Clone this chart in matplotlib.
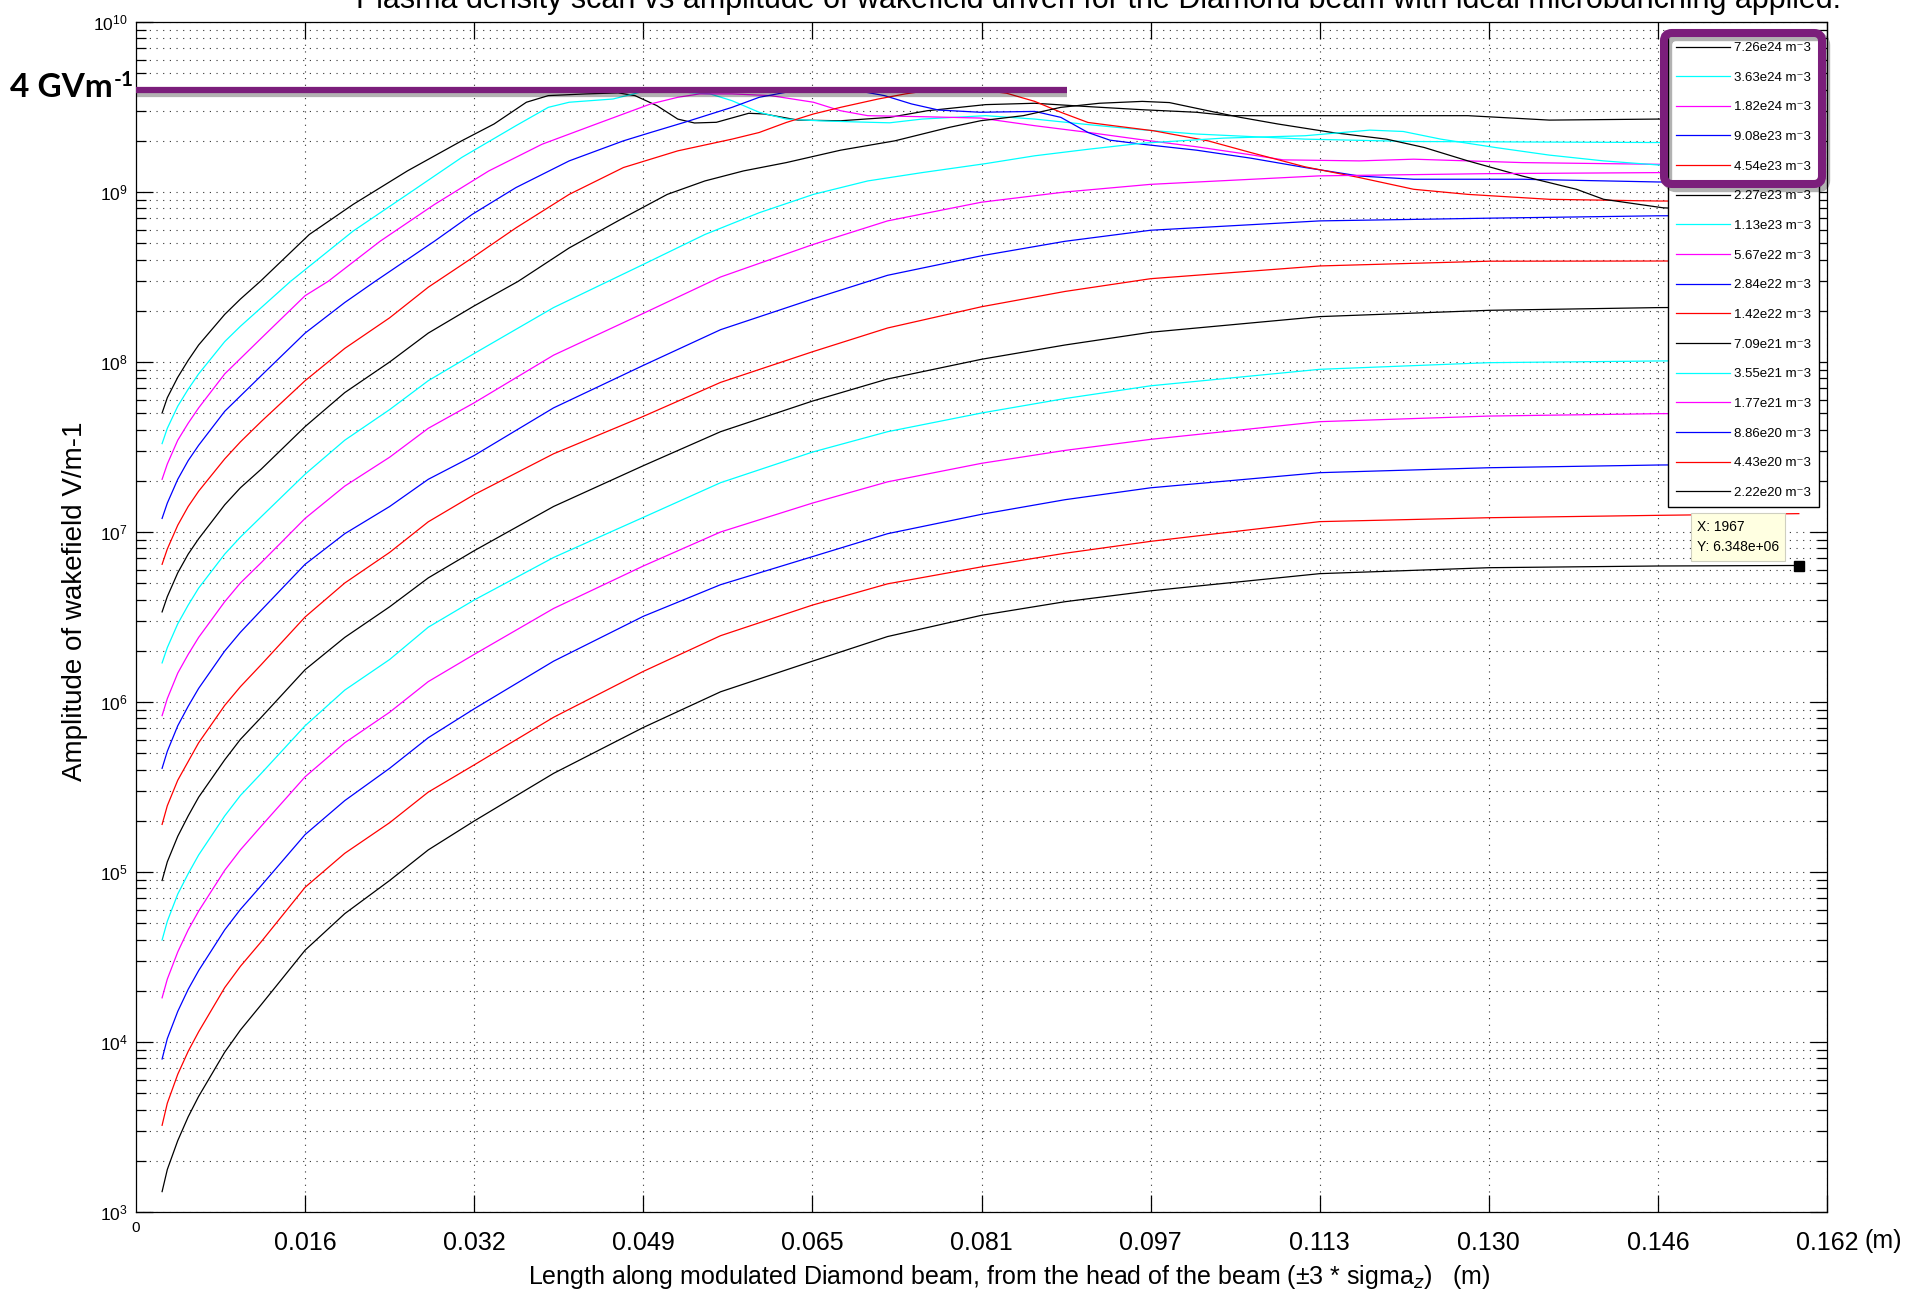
import matplotlib
matplotlib.use("Agg")
import matplotlib.pyplot as plt
import matplotlib.patheffects as pe
from matplotlib.patches import FancyBboxPatch
from matplotlib.ticker import NullFormatter, LogFormatterSciNotation
from matplotlib.transforms import IdentityTransform
import numpy as np


# NOTE : Legend text, one entry per plasma density (top to bottom)
densities=["7.26e24", "3.63e24", "1.82e24", "9.08e23", "4.54e23", "2.27e23", "1.13e23", "5.67e22",
           "2.84e22", "1.42e22", "7.09e21", "3.55e21", "1.77e21", "8.86e20", "4.43e20", "2.22e20"]

# NOTE : Position along the beam (m) and log10 of wakefield amplitude (V/m)
x_726e24=[0.0025, 0.003, 0.004, 0.005, 0.006, 0.0085, 0.01, 0.0119, 0.0166, 0.0208, 0.026, 0.0312,
          0.0343, 0.0374, 0.0395, 0.0431, 0.0462, 0.0478, 0.0499, 0.0519, 0.0535, 0.0556, 0.0587, 0.0602,
          0.0634, 0.0675, 0.0722, 0.0758, 0.0814, 0.0861, 0.0913, 0.0964, 0.1016, 0.1047, 0.1172, 0.1276,
          0.1354, 0.1458, 0.1593]
y_726e24=[7.70, 7.79, 7.91, 8.01, 8.10, 8.28, 8.37, 8.474, 8.75, 8.927, 9.124, 9.301,
          9.40, 9.528, 9.567, 9.577, 9.583, 9.567, 9.508, 9.429, 9.406, 9.41, 9.463, 9.459,
          9.423, 9.419, 9.439, 9.478, 9.514, 9.522, 9.502, 9.484, 9.469, 9.449, 9.449, 9.449,
          9.423, 9.429, 9.43]

x_363e24=[0.0025, 0.003, 0.004, 0.005, 0.006, 0.0085, 0.01, 0.012, 0.0148, 0.0208, 0.026, 0.0312,
          0.0364, 0.0395, 0.0415, 0.0457, 0.0483, 0.0519, 0.055, 0.0571, 0.0597, 0.0623, 0.0654, 0.0685,
          0.0722, 0.0753, 0.0814, 0.0861, 0.0913, 0.0964, 0.1016, 0.112, 0.1224, 0.1458, 0.1593]
y_363e24=[7.52, 7.61, 7.74, 7.84, 7.93, 8.12, 8.21, 8.32, 8.474, 8.77, 8.986, 9.203,
          9.39, 9.498, 9.528, 9.547, 9.587, 9.59, 9.577, 9.537, 9.469, 9.429, 9.419, 9.413,
          9.407, 9.429, 9.449, 9.429, 9.396, 9.366, 9.341, 9.311, 9.297, 9.291, 9.29]

x_182e24=[0.0025, 0.003, 0.004, 0.005, 0.006, 0.0085, 0.01, 0.012, 0.0162, 0.0184, 0.0234, 0.0286,
          0.0338, 0.0389, 0.0441, 0.0493, 0.0519, 0.054, 0.0571, 0.0608, 0.0649, 0.0675, 0.0701, 0.0753,
          0.0809, 0.0861, 0.0913, 0.0964, 0.1016, 0.1068, 0.1099, 0.1172, 0.1224, 0.1328, 0.1458, 0.1593]
y_182e24=[7.31, 7.40, 7.54, 7.64, 7.73, 7.93, 8.02, 8.14, 8.39, 8.474, 8.711, 8.927,
          9.124, 9.281, 9.40, 9.518, 9.557, 9.577, 9.577, 9.567, 9.528, 9.478, 9.449, 9.443,
          9.435, 9.39, 9.35, 9.307, 9.266, 9.219, 9.189, 9.183, 9.193, 9.173, 9.163, 9.16]

x_908e23=[0.0025, 0.003, 0.004, 0.005, 0.006, 0.0085, 0.01, 0.012, 0.0162, 0.02, 0.0229, 0.0286,
          0.0322, 0.0364, 0.0415, 0.0467, 0.0493, 0.0525, 0.0571, 0.0597, 0.0623, 0.0649, 0.0691, 0.0717,
          0.0743, 0.0769, 0.0809, 0.0861, 0.0886, 0.0912, 0.0933, 0.0964, 0.1016, 0.1068, 0.112, 0.1172,
          0.1224, 0.1328, 0.1458, 0.1593]
y_908e23=[7.08, 7.17, 7.31, 7.42, 7.51, 7.71, 7.80, 7.92, 8.17, 8.35, 8.474, 8.711,
          8.868, 9.026, 9.183, 9.301, 9.35, 9.409, 9.498, 9.557, 9.587, 9.596, 9.596, 9.567,
          9.518, 9.482, 9.469, 9.474, 9.439, 9.35, 9.305, 9.281, 9.246, 9.199, 9.144, 9.094,
          9.075, 9.075, 9.059, 9.055]

x_454e23=[0.0025, 0.003, 0.004, 0.005, 0.006, 0.0085, 0.01, 0.012, 0.0162, 0.02, 0.0243, 0.028,
          0.0322, 0.0364, 0.0415, 0.0467, 0.0519, 0.0571, 0.0597, 0.0623, 0.0649, 0.0675, 0.0711, 0.0737,
          0.0758, 0.0785, 0.0809, 0.0834, 0.0861, 0.0886, 0.0912, 0.0944, 0.0975, 0.1027, 0.1068, 0.112,
          0.1172, 0.1224, 0.1276, 0.1354, 0.1458, 0.1593]
y_454e23=[6.81, 6.90, 7.04, 7.15, 7.24, 7.43, 7.53, 7.65, 7.89, 8.08, 8.26, 8.44,
          8.612, 8.789, 8.986, 9.144, 9.242, 9.311, 9.35, 9.409, 9.459, 9.498, 9.547, 9.577,
          9.596, 9.605, 9.60, 9.581, 9.533, 9.469, 9.409, 9.384, 9.36, 9.301, 9.232, 9.148,
          9.085, 9.016, 8.986, 8.957, 8.947, 8.945]

x_227e23=[0.0025, 0.003, 0.004, 0.005, 0.006, 0.0085, 0.01, 0.012, 0.0162, 0.02, 0.0243, 0.028,
          0.0324, 0.0366, 0.0415, 0.0467, 0.0509, 0.0545, 0.0582, 0.0623, 0.0675, 0.0727, 0.0779, 0.0809,
          0.085, 0.0886, 0.0923, 0.0964, 0.099, 0.1027, 0.1058, 0.1094, 0.1146, 0.1198, 0.1234, 0.1276,
          0.1328, 0.138, 0.1406, 0.1463, 0.1593]
y_227e23=[6.53, 6.62, 6.76, 6.87, 6.96, 7.16, 7.26, 7.37, 7.62, 7.82, 8.0, 8.17,
          8.33, 8.474, 8.671, 8.848, 8.986, 9.065, 9.124, 9.173, 9.246, 9.301, 9.38, 9.419,
          9.449, 9.498, 9.522, 9.533, 9.526, 9.478, 9.439, 9.40, 9.35, 9.311, 9.262, 9.183,
          9.094, 9.016, 8.957, 8.907, 8.87]

x_113e23=[0.0025, 0.003, 0.004, 0.005, 0.006, 0.0085, 0.01, 0.012, 0.0162, 0.02, 0.0243, 0.028,
          0.0324, 0.04, 0.0486, 0.0545, 0.0597, 0.0649, 0.0701, 0.0753, 0.0814, 0.0861, 0.0913, 0.0964,
          0.1042, 0.112, 0.1182, 0.1214, 0.125, 0.1302, 0.1354, 0.1406, 0.1458, 0.1593]
y_113e23=[6.23, 6.32, 6.46, 6.57, 6.67, 6.87, 6.97, 7.09, 7.34, 7.54, 7.72, 7.89,
          8.05, 8.32, 8.574, 8.75, 8.878, 8.986, 9.065, 9.114, 9.167, 9.213, 9.252, 9.287,
          9.317, 9.331, 9.364, 9.356, 9.311, 9.262, 9.217, 9.183, 9.159, 9.155]

# NOTE : The lower densities share the same sample positions
x_low=[0.0025, 0.003, 0.004, 0.005, 0.006, 0.0085, 0.01, 0.012, 0.0162, 0.02, 0.0243, 0.028, 0.0324,
       0.04, 0.0486, 0.056, 0.0648, 0.072, 0.081, 0.089, 0.0972, 0.1134, 0.1296, 0.1458, 0.1593]
y_567e22=[5.92, 6.02, 6.17, 6.28, 6.38, 6.59, 6.70, 6.82, 7.08, 7.27, 7.44, 7.61, 7.76,
          8.04, 8.286, 8.5, 8.69, 8.83, 8.94, 9.0, 9.045, 9.095, 9.108, 9.114, 9.115]
y_284e22=[5.61, 5.71, 5.86, 5.975, 6.08, 6.30, 6.41, 6.54, 6.81, 6.99, 7.15, 7.31, 7.45,
          7.73, 7.98, 8.19, 8.37, 8.51, 8.625, 8.71, 8.775, 8.83, 8.846, 8.86, 8.862]
y_142e22=[5.28, 5.39, 5.54, 5.65, 5.76, 5.98, 6.09, 6.22, 6.50, 6.70, 6.88, 7.06, 7.22,
          7.46, 7.68, 7.88, 8.06, 8.2, 8.325, 8.415, 8.49, 8.565, 8.593, 8.594, 8.595]
y_709e21=[4.95, 5.06, 5.21, 5.33, 5.44, 5.66, 5.78, 5.91, 6.19, 6.38, 6.56, 6.73, 6.89,
          7.15, 7.39, 7.59, 7.77, 7.9, 8.016, 8.1, 8.175, 8.267, 8.304, 8.32, 8.325]
y_355e21=[4.60, 4.71, 4.87, 4.99, 5.10, 5.33, 5.45, 5.58, 5.86, 6.07, 6.25, 6.44, 6.60,
          6.85, 7.086, 7.29, 7.47, 7.59, 7.70, 7.785, 7.86, 7.957, 7.996, 8.006, 8.01]
y_177e21=[4.26, 4.37, 4.53, 4.66, 4.77, 5.01, 5.13, 5.27, 5.56, 5.76, 5.94, 6.12, 6.28,
          6.55, 6.80, 7.0, 7.17, 7.295, 7.404, 7.48, 7.545, 7.649, 7.682, 7.696, 7.70]
y_886e20=[3.90, 4.02, 4.18, 4.31, 4.42, 4.66, 4.78, 4.92, 5.22, 5.42, 5.61, 5.79, 5.96,
          6.24, 6.504, 6.69, 6.855, 6.99, 7.104, 7.19, 7.26, 7.349, 7.378, 7.394, 7.40]
y_443e20=[3.51, 3.64, 3.81, 3.945, 4.06, 4.32, 4.445, 4.59, 4.91, 5.11, 5.29, 5.47, 5.63,
          5.91, 6.18, 6.39, 6.57, 6.695, 6.795, 6.875, 6.945, 7.061, 7.084, 7.098, 7.108]
y_222e20=[3.12, 3.25, 3.42, 3.56, 3.68, 3.94, 4.07, 4.22, 4.54, 4.755, 4.95, 5.13, 5.30,
          5.58, 5.85, 6.06, 6.24, 6.385, 6.51, 6.59, 6.654, 6.755, 6.79, 6.80, 6.803]

# NOTE : Axis ticks
x_ticks=[0.0162, 0.0324, 0.0486, 0.0648, 0.081, 0.0972, 0.1134, 0.1296, 0.1458, 0.162]
x_tick_labels=["0.016", "0.032", "0.049", "0.065", "0.081", "0.097", "0.113", "0.130", "0.146", "0.162"]
y_decades=[3, 4, 5, 6, 7, 8, 9, 10]

# NOTE : Threshold line and data tip
threshold=4e9
threshold_end=0.0892
tip_sample=1967
tip_x=0.1593
tip_y=6.348e6

title="Plasma density scan vs amplitude of wakefield driven for the Diamond beam with ideal microbunching applied."

curves=[(x_726e24, y_726e24), (x_363e24, y_363e24), (x_182e24, y_182e24), (x_908e23, y_908e23),
        (x_454e23, y_454e23), (x_227e23, y_227e23), (x_113e23, y_113e23), (x_low, y_567e22),
        (x_low, y_284e22), (x_low, y_142e22), (x_low, y_709e21), (x_low, y_355e21),
        (x_low, y_177e21), (x_low, y_886e20), (x_low, y_443e20), (x_low, y_222e20)]
colors=["black", "cyan", "magenta", "blue", "red"]
purple="#7B1E7B"

plt.rcParams["font.family"]=["Liberation Sans", "DejaVu Sans"]
narrow=["Liberation Sans Narrow", "Liberation Sans", "DejaVu Sans"]

W, H=1905, 1292
fig=plt.figure(figsize=(W/100, H/100), dpi=100)
ax=fig.add_axes([136/W, 1-1212/H, (1827-136)/W, (1212-22)/H])

for i, (xs, ys) in enumerate(curves):
    ax.plot(xs, 10**np.array(ys), color=colors[i % 5], lw=0.9, label=f"{densities[i]} m\u207b3", zorder=3)

ax.set_yscale("log")
ax.set_xlim(0, 0.162)
ax.set_ylim(1e3, 1e10)

# NOTE : Fixed ticks, only inside the visible range
ax.set_yticks([10.0**d for d in y_decades])
ax.set_yticks([m*10.0**d for d in y_decades[:-1] for m in range(2, 10)], minor=True)
ax.yaxis.set_major_formatter(LogFormatterSciNotation())
ax.yaxis.set_minor_formatter(NullFormatter())
ax.set_xticks(x_ticks)
ax.set_xticklabels(x_tick_labels, family=narrow, fontsize=18)

ax.tick_params(which="both", direction="in", top=True, right=True, width=0.9)
ax.tick_params(which="major", length=12)
ax.tick_params(which="minor", length=7)
ax.tick_params(axis="y", labelsize=12.5, pad=6)
ax.tick_params(axis="x", pad=14)

dots=(0, (1, 5))
ax.set_axisbelow(True)
ax.grid(True, which="major", axis="x", ls=dots, color="#333333", lw=0.8)
ax.grid(True, which="both", axis="y", ls=dots, color="#333333", lw=0.8)
for s in ax.spines.values():
    s.set_linewidth(0.9)

ax.annotate("0", xy=(0, 0), xycoords="axes fraction", xytext=(0, -16), textcoords="offset pixels",
            ha="center", va="center", fontsize=11)
ax.annotate("(m)", xy=(1, 0), xycoords="axes fraction", xytext=(38, -29), textcoords="offset pixels",
            ha="left", va="center", fontsize=18, family=narrow)

leg=ax.legend(loc="upper right", bbox_to_anchor=(1819/W, 1-34/H), bbox_transform=fig.transFigure,
              prop={"family": ["Liberation Sans", "DejaVu Sans"], "size": 9.5}, handlelength=4.1,
              handletextpad=0.3, labelspacing=1.32, borderpad=0.6, borderaxespad=0,
              fancybox=False, framealpha=1, edgecolor="black")
leg.get_frame().set_linewidth(1.0)
leg.set_zorder(6)

# NOTE : Highlight of the 4 GV/m level
ax.plot([0, threshold_end], [threshold, threshold], color=purple, lw=4.5, solid_capstyle="butt",
        clip_on=False, zorder=7,
        path_effects=[pe.SimpleLineShadow(offset=(0, -3), alpha=0.3), pe.Normal()])
t=fig.text(10/W, 1-97/H, "4 GVm", fontsize=24, fontweight="bold", family=["Lato", "DejaVu Sans"],
           va="baseline", ha="left")
ax.annotate("-1", xy=(1, 1), xycoords=t, xytext=(1, 2), textcoords="offset points",
            fontsize=15, fontweight="bold", family=["Lato", "DejaVu Sans"], va="top", ha="left")

box=FancyBboxPatch((1664, H-184), 158, 151, boxstyle="round,pad=0,rounding_size=8",
                   transform=IdentityTransform(), fill=False, ec=purple, lw=5.8, zorder=8,
                   path_effects=[pe.SimpleLineShadow(offset=(3, -3), alpha=0.3), pe.Normal()])
fig.add_artist(box)

# NOTE : Data tip on the lowest density curve
ax.plot(tip_x, tip_y, "s", color="black", ms=7, zorder=6)
fig.text(1697/W, 1-537/H, f"X: {tip_sample}\nY: {tip_y:.3e}", fontsize=10, va="center", ha="left",
         linespacing=1.6, bbox=dict(boxstyle="square,pad=0.45", fc="#FFFFE1", ec="#CFCFC0", lw=0.8))

fig.text(1098/W, 1-8/H, title, ha="center", va="baseline", fontsize=22)
fig.text(75/W, 1-601/H, "Amplitude of wakefield V/m-1", rotation=90, va="center", ha="center", fontsize=20)
fig.text(1009/W, 1-1277/H, "Length along modulated Diamond beam, from the head of the beam (\u00b13 * sigma$_z$)   (m)",
         ha="center", va="center", fontsize=18, family=narrow)

fig.savefig("out.png", dpi=100)
